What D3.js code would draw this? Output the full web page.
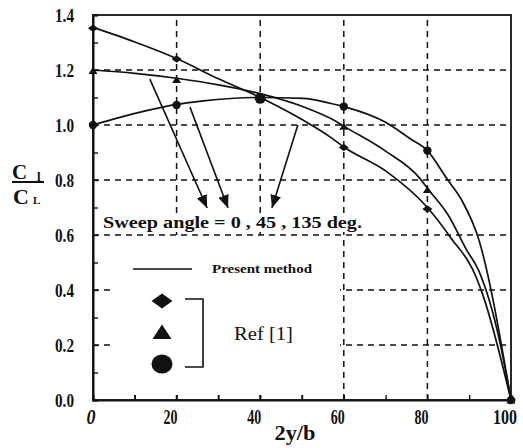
<!DOCTYPE html>
<html>
<head>
<meta charset="utf-8">
<script src="https://cdn.jsdelivr.net/npm/d3@7"></script>
<style>
  html, body { margin: 0; padding: 0; background: #fff; }
  svg { display: block; }
  text { font-family: "Liberation Serif", "DejaVu Serif", serif; fill: #111; }
</style>
</head>
<body>
<svg id="chart" width="523" height="448"></svg>
<script>
// Spanwise load distribution C_l / C_L against 2y/b for three sweep angles.

// Present method (computed curves)
const spanCurve0   = [0, 10, 20, 30, 40, 50, 56.7, 60, 70, 80, 85.4, 91.8, 93.4, 100];
const loadCurve0   = [1.355, 1.302, 1.242, 1.168, 1.100, 1.020, 0.957, 0.920, 0.833, 0.700, 0.594, 0.442, 0.376, 0];

const spanCurve45  = [0, 10, 20, 30, 40, 50, 58.3, 60, 70, 78.2, 80, 85, 89.4, 92.2, 97.4, 100];
const loadCurve45  = [1.200, 1.188, 1.170, 1.146, 1.114, 1.068, 1.012, 0.996, 0.905, 0.806, 0.770, 0.672, 0.545, 0.473, 0.206, 0];

const spanCurve135 = [0, 6, 12.8, 20, 26.4, 40, 50.3, 56.7, 60, 70, 75.8, 80, 84.6, 88.2, 92.2, 100];
const loadCurve135 = [1.000, 1.026, 1.052, 1.075, 1.088, 1.100, 1.097, 1.079, 1.067, 1.010, 0.951, 0.907, 0.806, 0.727, 0.588, 0];

// Ref [1] data points
const refSpan      = [0, 20, 40, 60, 80, 100];
const refDiamond   = [1.352, 1.240, 1.100, 0.918, 0.695, 0];
const refTriangle  = [1.198, 1.165, 1.102, 0.995, 0.765, 0];
const refCircle    = [1.000, 1.073, 1.097, 1.067, 0.907, 0];

// Axis ticks
const xTicks      = [0, 20, 40, 60, 80, 100];
const xTickLabels = ["0", "20", "40", "60", "80", "100"];
const yTicks      = [0, 0.2, 0.4, 0.6, 0.8, 1.0, 1.2, 1.4];
const yTickLabels = ["0.0", "0.2", "0.4", "0.6", "0.8", "1.0", "1.2", "1.4"];

// Annotation arrows, in data units: [tailX, tailY, tipX, tipY]
const sweepArrows = [
  [13.6, 1.167, 27.3, 0.698],
  [23.2, 1.065, 32.3, 0.698],
  [49.0, 1.000, 42.8, 0.698]
];

const svg = d3.select("#chart");
const x = d3.scaleLinear().domain([0, 100]).range([93, 511]);
const y = d3.scaleLinear().domain([0, 1.4]).range([400, 15]);

svg.append("defs").append("marker")
  .attr("id", "head")
  .attr("viewBox", "0 0 12 10")
  .attr("refX", 12).attr("refY", 5)
  .attr("markerUnits", "userSpaceOnUse")
  .attr("markerWidth", 13).attr("markerHeight", 11)
  .attr("orient", "auto")
  .append("path").attr("d", "M0,0 L12,5 L0,10 Z").attr("fill", "#111");

// Dashed grid
const grid = svg.append("g")
  .attr("stroke", "#111").attr("stroke-width", 1.5).attr("stroke-dasharray", "6,5");
grid.selectAll("line.v").data([20, 40, 60, 80]).join("line")
  .attr("x1", d => x(d)).attr("x2", d => x(d))
  .attr("y1", y(0)).attr("y2", y(1.4));
grid.selectAll("line.h").data([0.2, 0.4, 0.6, 0.8, 1.0, 1.2]).join("line")
  .attr("y1", d => y(d)).attr("y2", d => y(d))
  .attr("x1", x(0)).attr("x2", x(100));

// Frame
svg.append("rect")
  .attr("x", x(0)).attr("y", y(1.4))
  .attr("width", x(100) - x(0)).attr("height", y(0) - y(1.4))
  .attr("fill", "none").attr("stroke", "#111").attr("stroke-width", 1.8);

// Axes with inward minor ticks
const xAxis = d3.axisBottom(x)
  .tickValues(d3.range(0, 101, 10))
  .tickSize(-5).tickFormat("");
svg.append("g").attr("transform", `translate(0,${y(0)})`).call(xAxis)
  .call(g => g.select(".domain").attr("stroke", "#111").attr("stroke-width", 2))
  .call(g => g.selectAll(".tick line").attr("stroke", "#111").attr("stroke-width", 1.4));

const yAxis = d3.axisLeft(y)
  .tickValues(d3.range(0, 15).map(i => i / 10))
  .tickSize(-5).tickFormat("");
svg.append("g").attr("transform", `translate(${x(0)},0)`).call(yAxis)
  .call(g => g.select(".domain").attr("stroke", "#111").attr("stroke-width", 2))
  .call(g => g.selectAll(".tick line").attr("stroke", "#111").attr("stroke-width", 1.4));

// Tick labels (bold, condensed)
const xLab = svg.append("g");
xTicks.forEach((v, i) => {
  const t = xTickLabels[i];
  xLab.append("text")
    .attr("x", x(v) - (i === 0 ? 2 : 6)).attr("y", 424)
    .attr("text-anchor", "middle")
    .attr("font-size", 20).attr("font-weight", "bold")
    .attr("font-style", i === 0 ? "italic" : "normal")
    .attr("textLength", t.length === 1 ? 9 : t.length === 2 ? 14 : 24)
    .attr("lengthAdjust", "spacingAndGlyphs")
    .text(t);
});
const yLab = svg.append("g");
yTicks.forEach((v, i) => {
  yLab.append("text")
    .attr("x", 74).attr("y", y(v) + 7)
    .attr("text-anchor", "end")
    .attr("font-size", 19).attr("font-weight", "bold")
    .attr("textLength", 19).attr("lengthAdjust", "spacingAndGlyphs")
    .text(yTickLabels[i]);
});

// Axis titles
svg.append("text")
  .attr("x", 295).attr("y", 440).attr("text-anchor", "middle")
  .attr("font-size", 21).attr("font-weight", "bold")
  .attr("textLength", 41).attr("lengthAdjust", "spacingAndGlyphs")
  .text("2y/b");

const yTitle = svg.append("g").attr("font-weight", "bold");
yTitle.append("text").attr("x", 12).attr("y", 179).attr("font-size", 21).text("C");
yTitle.append("text").attr("x", 37).attr("y", 181).attr("font-size", 13).text("l");
yTitle.append("line").attr("x1", 12).attr("x2", 44).attr("y1", 182).attr("y2", 182)
  .attr("stroke", "#111").attr("stroke-width", 2);
yTitle.append("text").attr("x", 13).attr("y", 204).attr("font-size", 22).text("C");
yTitle.append("text").attr("x", 33).attr("y", 204).attr("font-size", 11).text("L");

// Computed curves
const line = d3.line().x(d => x(d[0])).y(d => y(d[1])).curve(d3.curveMonotoneX);
const curves = [
  d3.zip(spanCurve0, loadCurve0),
  d3.zip(spanCurve45, loadCurve45),
  d3.zip(spanCurve135, loadCurve135)
];
svg.append("g").selectAll("path").data(curves).join("path")
  .attr("d", line).attr("fill", "none")
  .attr("stroke", "#111").attr("stroke-width", 1.7);

// Ref [1] symbols
const sym = {
  diamond: (s) => `M0,${-s * 0.75}L${s},0L0,${s * 0.75}L${-s},0Z`,
  triangle: (s) => `M0,${-s * 0.8}L${s},${s * 0.75}L${-s},${s * 0.75}Z`
};
const pts = svg.append("g").attr("fill", "#111");
refSpan.forEach((sx, i) => {
  pts.append("path").attr("d", sym.diamond(5))
    .attr("transform", `translate(${x(sx)},${y(refDiamond[i])})`);
  pts.append("path").attr("d", sym.triangle(4.5))
    .attr("transform", `translate(${x(sx)},${y(refTriangle[i])})`);
  pts.append("circle").attr("r", sx === 40 ? 5.5 : 4.2)
    .attr("cx", x(sx)).attr("cy", y(refCircle[i]));
});

// Annotation: arrows to the sweep-angle caption
svg.append("g").selectAll("line").data(sweepArrows).join("line")
  .attr("x1", d => x(d[0])).attr("y1", d => y(d[1]))
  .attr("x2", d => x(d[2])).attr("y2", d => y(d[3]))
  .attr("stroke", "#111").attr("stroke-width", 1.6)
  .attr("marker-end", "url(#head)");

svg.append("rect").attr("x", 100).attr("y", 213).attr("width", 266).attr("height", 19).attr("fill", "#fff");
svg.append("text")
  .attr("x", 103).attr("y", 228)
  .attr("font-size", 16).attr("font-weight", "bold")
  .attr("textLength", 259).attr("lengthAdjust", "spacingAndGlyphs")
  .text("Sweep angle = 0 , 45 , 135 deg.");

// Legend
const lg = svg.append("g");
lg.append("rect").attr("x", 112).attr("y", 239).attr("width", 228).attr("height", 156).attr("fill", "#fff");
lg.append("line").attr("x1", 133).attr("x2", 192).attr("y1", 269).attr("y2", 269)
  .attr("stroke", "#111").attr("stroke-width", 1.6);
lg.append("text").attr("x", 212).attr("y", 273)
  .attr("font-size", 13).attr("font-weight", "bold")
  .attr("textLength", 100).attr("lengthAdjust", "spacingAndGlyphs")
  .text("Present method");
lg.append("path").attr("d", "M0,-7.5L10.5,0L0,7.5L-10.5,0Z").attr("fill", "#111")
  .attr("transform", "translate(162,301)");
lg.append("path").attr("d", "M0,-7.5L9.5,7L-9.5,7Z").attr("fill", "#111")
  .attr("transform", "translate(162,332)");
lg.append("ellipse").attr("cx", 162).attr("cy", 364).attr("rx", 10.5).attr("ry", 9.5).attr("fill", "#111");
lg.append("path").attr("d", "M185,299H203V367H185")
  .attr("fill", "none").attr("stroke", "#111").attr("stroke-width", 1.6);
lg.append("text").attr("x", 234).attr("y", 340)
  .attr("font-size", 18)
  .attr("textLength", 59).attr("lengthAdjust", "spacingAndGlyphs")
  .text("Ref [1]");

// Redraw the bottom axis ticks under the legend panel
svg.append("g").attr("stroke", "#111").attr("stroke-width", 1.4)
  .selectAll("line").data([10, 20, 30, 40, 50]).join("line")
  .attr("x1", d => x(d)).attr("x2", d => x(d))
  .attr("y1", y(0)).attr("y2", y(0) - 5);
</script>
</body>
</html>
